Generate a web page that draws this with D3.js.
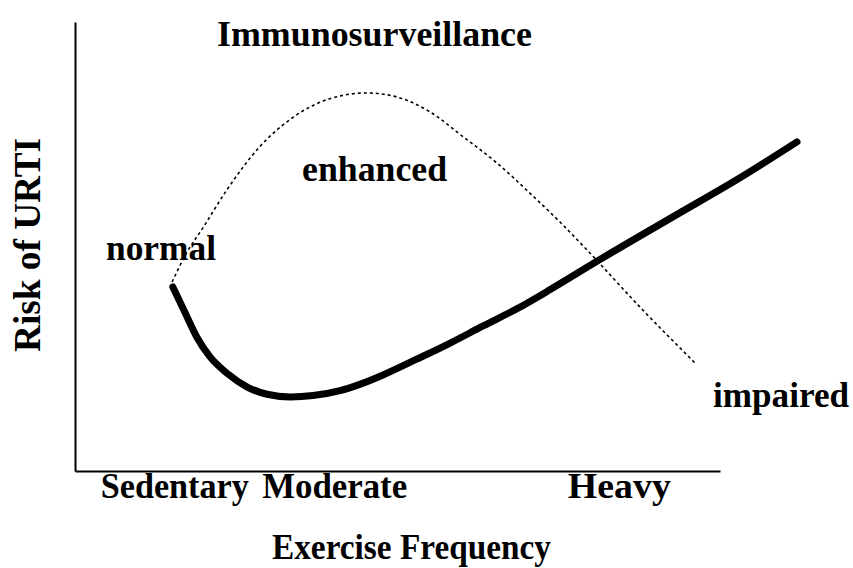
<!DOCTYPE html>
<html>
<head>
<meta charset="utf-8">
<script src="https://cdn.jsdelivr.net/npm/d3@7"></script>
<style>
  body { margin: 0; background: #fff; }
  text { font-family: "Liberation Serif", "Times New Roman", serif; font-weight: bold; fill: #000; }
</style>
</head>
<body>
<svg id="chart"></svg>
<script>
// exercise frequency (0-100) vs risk (0-100)
var riskX = [13.4, 15.1, 16.7, 18.5, 20.8, 23.6, 26.3, 29.5, 32.6, 36.3, 39.0, 42.2, 46.8, 51.4, 55.9, 60.5, 65.1, 71.5, 81.9, 91.1, 98.9];
var riskY = [41.0, 35.2, 29.8, 25.4, 21.8, 18.7, 17.1, 16.5, 16.8, 17.9, 19.3, 21.4, 24.9, 28.5, 32.3, 36.1, 40.4, 46.7, 56.6, 65.3, 73.3];

var immX = [13.3, 15.3, 17.5, 20.8, 25.3, 29.9, 34.5, 40.0, 44.1, 48.6, 53.2, 57.8, 62.3, 66.4, 70.5, 77.4, 84.9];
var immY = [42.1, 48.6, 54.1, 62.6, 72.2, 78.8, 82.7, 84.2, 83.3, 80.0, 74.4, 68.6, 61.9, 55.5, 48.6, 36.5, 24.1];

var tickLabels = ['Sedentary', 'Moderate', 'Heavy'];
var tickPos = [13.6, 35.5, 74.5];
var tickWidths = [148, 145, 103];

// annotation labels: text, position (data units), width
var noteText = ['Immunosurveillance', 'normal', 'enhanced', 'impaired'];
var noteX = [19.45, 4.25, 31.1, 87.4];
var noteY = [94.7, 47.0, 64.6, 14.3];
var noteW = [315, 110, 145, 136];

var w = 853, h = 568;
var svg = d3.select('#chart').attr('width', w).attr('height', h);

var x = d3.scaleLinear().domain([0, 100]).range([75, 805]);
var y = d3.scaleLinear().domain([0, 100]).range([471, 22]);

// x axis stops short of the curves
var xAxisScale = x.copy().domain([0, x.invert(720)]).range([75, 720]);

var gx = svg.append('g')
    .attr('transform', 'translate(0,' + y(0) + ')')
    .call(d3.axisBottom(xAxisScale)
        .tickValues(tickPos)
        .tickSize(0)
        .tickSizeOuter(0)
        .tickFormat(function(d, i) { return tickLabels[i]; }));
gx.select('.domain').attr('stroke', '#000').attr('stroke-width', 2);
gx.selectAll('.tick text')
    .attr('y', 27)
    .attr('dy', 0)
    .attr('font-size', 35)
    .attr('font-family', null)
    .attr('fill', null)
    .attr('textLength', function(d, i) { return tickWidths[i]; })
    .attr('lengthAdjust', 'spacingAndGlyphs');

var gy = svg.append('g')
    .attr('transform', 'translate(' + x(0) + ',0)')
    .call(d3.axisLeft(y).tickValues([]).tickSizeOuter(0));
gy.select('.domain').attr('stroke', '#000').attr('stroke-width', 2);

var line = d3.line()
    .x(function(d) { return x(d[0]); })
    .y(function(d) { return y(d[1]); })
    .curve(d3.curveMonotoneX);

svg.append('path')
    .datum(d3.zip(immX, immY))
    .attr('d', line)
    .attr('fill', 'none')
    .attr('stroke', '#000')
    .attr('stroke-width', 1.6)
    .attr('stroke-dasharray', '3,3');

svg.append('path')
    .datum(d3.zip(riskX, riskY))
    .attr('d', line)
    .attr('fill', 'none')
    .attr('stroke', '#000')
    .attr('stroke-width', 7)
    .attr('stroke-linecap', 'round');

svg.selectAll('.note')
    .data(noteText)
    .enter().append('text')
    .attr('class', 'note')
    .attr('x', function(d, i) { return x(noteX[i]); })
    .attr('y', function(d, i) { return y(noteY[i]); })
    .attr('font-size', 36)
    .attr('textLength', function(d, i) { return noteW[i]; })
    .attr('lengthAdjust', 'spacingAndGlyphs')
    .text(function(d) { return d; });

// axis titles
svg.append('text')
    .attr('x', 272)
    .attr('y', 559)
    .attr('font-size', 35)
    .attr('textLength', 279)
    .attr('lengthAdjust', 'spacingAndGlyphs')
    .text('Exercise Frequency');

svg.append('text')
    .attr('transform', 'translate(40,245) rotate(-90)')
    .attr('text-anchor', 'middle')
    .attr('font-size', 37)
    .attr('textLength', 214)
    .attr('lengthAdjust', 'spacingAndGlyphs')
    .text('Risk of URTI');
</script>
</body>
</html>
